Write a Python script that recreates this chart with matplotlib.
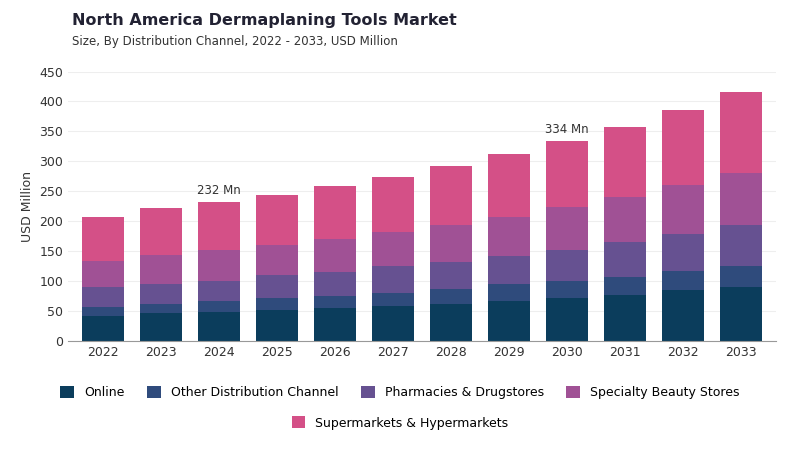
import numpy as np
from matplotlib import pyplot as plt

years = ['2022', '2023', '2024', '2025', '2026', '2027', '2028', '2029', '2030', '2031', '2032', '2033']
online = [42, 47, 48, 52, 55, 58, 62, 67, 72, 77, 84, 90]
other = [15, 15, 19, 20, 20, 22, 25, 27, 28, 30, 33, 35]
pharmacies = [32, 33, 33, 37, 40, 44, 45, 48, 52, 58, 62, 69]
specialty = [45, 49, 52, 51, 55, 58, 62, 65, 72, 75, 81, 87]
supermarkets = [72, 77, 80, 84, 88, 92, 98, 105, 110, 118, 126, 135]

names = ['Online', 'Other Distribution Channel', 'Pharmacies & Drugstores',
         'Specialty Beauty Stores', 'Supermarkets & Hypermarkets']
colors = ['#0b3d5c', '#2f4b7c', '#665191', '#a05195', '#d45087']

fig = plt.figure(figsize=(8, 4.5), dpi=100)
ax = fig.add_axes([0.085, 0.243, 0.885, 0.598])

x = np.arange(len(years))
bottom = np.zeros(len(years))
for vals, name, c in zip([online, other, pharmacies, specialty, supermarkets], names, colors):
    ax.bar(x, vals, 0.72, bottom=bottom, color=c, label=name)
    bottom += np.array(vals)

for i in [2, 8]:
    ax.text(x[i], bottom[i] + 8, f'{round(bottom[i])} Mn', ha='center', va='bottom',
            fontsize=8.5, color='#333333')

ax.set_xticks(x)
ax.set_xticklabels(years)
ax.set_ylim(0, 450)
ax.set_xlim(-0.6, len(years) - 0.4)
ax.set_yticks(range(0, 451, 50))
ax.set_ylabel('USD Million', fontsize=9, color='#333333')
ax.tick_params(labelsize=9, colors='#333333', length=0)
ax.grid(axis='y', color='#eeeeee', linewidth=0.8)
ax.set_axisbelow(True)
for s in ['top', 'right', 'left']:
    ax.spines[s].set_visible(False)
ax.spines['bottom'].set_color('#999999')

fig.text(0.09, 0.945, 'North America Dermaplaning Tools Market', fontsize=11.5,
         fontweight='bold', color='#222233')
fig.text(0.09, 0.9, 'Size, By Distribution Channel, 2022 - 2033, USD Million', fontsize=8.5,
         color='#333333')

h, l = ax.get_legend_handles_labels()
fig.legend(h[:4], l[:4], loc='center', bbox_to_anchor=(0.5, 0.127), ncol=4, frameon=False,
           fontsize=9, handlelength=1.1, handleheight=1.1, columnspacing=1.8)
fig.legend(h[4:], l[4:], loc='center', bbox_to_anchor=(0.5, 0.06), ncol=1, frameon=False,
           fontsize=9, handlelength=1.1, handleheight=1.1)

fig.savefig('out.png')
